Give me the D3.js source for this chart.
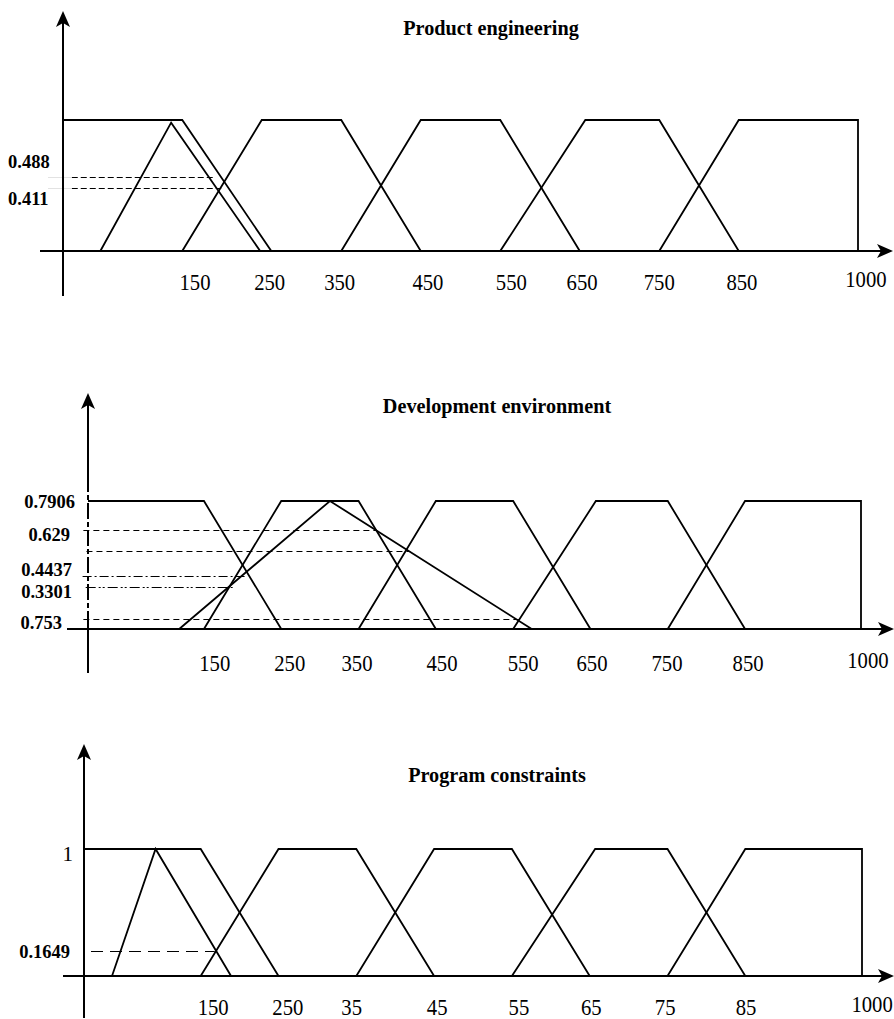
<!DOCTYPE html>
<html>
<head>
<meta charset="utf-8">
<script src="https://cdn.jsdelivr.net/npm/d3@7"></script>
<style>
  body { margin: 0; background: #fff; }
  svg { display: block; }
  text { font-family: "Liberation Serif", "Times New Roman", serif; fill: #000; }
</style>
</head>
<body>
<div id="chart"></div>
<script>
// ---------- Panel 1 : Product engineering ----------
const peTitle = "Product engineering";
const peSets = [
  [[0, 1], [150, 1], [262, 0]],
  [[47, 0], [136, 0.98], [248, 0]],
  [[150, 0], [250, 1], [350, 1], [450, 0]],
  [[350, 0], [450, 1], [550, 1], [650, 0]],
  [[550, 0], [657, 1], [750, 1], [850, 0]],
  [[750, 0], [850, 1], [1000, 1], [1000, 0]]
];
const peCutLevels = [0.565, 0.481];
const peCutFrom = [11, 11];
const peCutTo = [190, 199];
const peLabelText = ["0.488", "0.411"];
const peLabelLevel = [0.565, 0.481];
const peTickLabels = ["150", "250", "350", "450", "550", "650", "750", "850", "1000"];
const peTickAt = [166, 260, 348, 459, 564, 653, 750, 854, 1010];

// ---------- Panel 2 : Development environment ----------
const deTitle = "Development environment";
const deSets = [
  [[0, 1], [150, 1], [250, 0]],
  [[118, 0], [313, 1], [574, 0]],
  [[150, 0], [250, 1], [350, 1], [450, 0]],
  [[350, 0], [450, 1], [550, 1], [650, 0]],
  [[550, 0], [657, 1], [750, 1], [850, 0]],
  [[750, 0], [850, 1], [1000, 1], [1000, 0]]
];
const deCutLevels = [0.773, 0.609, 0.416, 0.328, 0.078];
const deCutFrom = [-6, -2, -7, -3, -6];
const deCutTo = [374, 417, 203, 188, 559];
const deLabelText = ["0.7906", "0.629", "0.4437", "0.3301", "0.753"];
const deLabelLevel = [1, 0.773, 0.416, 0.328, 0.078];
const deTickLabels = ["150", "250", "350", "450", "550", "650", "750", "850", "1000"];
const deTickAt = [164, 261, 348, 458, 563, 652, 749, 854, 1009];

// ---------- Panel 3 : Program constraints ----------
const pcTitle = "Program constraints";
const pcSets = [
  [[0, 1], [150, 1], [250, 0]],
  [[36, 0], [92, 1], [189, 0]],
  [[150, 0], [250, 1], [350, 1], [450, 0]],
  [[350, 0], [450, 1], [550, 1], [650, 0]],
  [[550, 0], [657, 1], [750, 1], [850, 0]],
  [[750, 0], [850, 1], [1000, 1], [1000, 0]]
];
const pcCutLevels = [0.197];
const pcCutFrom = [9];
const pcCutTo = [168];
const pcLabelText = ["1", "0.1649"];
const pcLabelLevel = [1, 0.197];
const pcTickLabels = ["150", "250", "35", "45", "55", "65", "75", "85", "1000"];
const pcTickAt = [166, 262, 344, 454, 559, 652, 747, 851, 1013];

// ---------- layout (pixels) ----------
const W = 894, H = 1019;
const panels = [
  {
    title: peTitle, sets: peSets, cuts: peCutLevels, cutFrom: peCutFrom, cutTo: peCutTo,
    labels: peLabelText, labelLevel: peLabelLevel, ticks: peTickLabels, tickAt: peTickAt,
    x0: 63, x1: 858, yBase: 251, yTop: 120, axisTop: 11, axisBottom: 296,
    xAxisFrom: 40, xAxisTo: 893, titleX: 491, titleY: 35, tickY: 290,
    labelX: [8, 8], labelDy: [-9, 17], labelAnchor: "start", labelBold: [true, true],
    cutDash: ["6,3", "6,3"], faintLead: true
  },
  {
    title: deTitle, sets: deSets, cuts: deCutLevels, cutFrom: deCutFrom, cutTo: deCutTo,
    labels: deLabelText, labelLevel: deLabelLevel, ticks: deTickLabels, tickAt: deTickAt,
    x0: 88, x1: 861, yBase: 629, yTop: 501, axisTop: 393, axisBottom: 673,
    xAxisFrom: 67, xAxisTo: 894, titleX: 497, titleY: 413, tickY: 671,
    labelX: [75, 70, 72, 72, 62], labelDy: [7, 11, 0, 11, 10], labelAnchor: "end",
    labelBold: [true, true, true, true, true],
    cutDash: ["6,4", "6,4", "9,3,2,3", "10,3,2,2,2,3", "6,4"], brokenAxis: true
  },
  {
    title: pcTitle, sets: pcSets, cuts: pcCutLevels, cutFrom: pcCutFrom, cutTo: pcCutTo,
    labels: pcLabelText, labelLevel: pcLabelLevel, ticks: pcTickLabels, tickAt: pcTickAt,
    x0: 84, x1: 862, yBase: 976, yTop: 849, axisTop: 744, axisBottom: 1018,
    xAxisFrom: 63, xAxisTo: 894, titleX: 497, titleY: 782, tickY: 1015,
    labelX: [73, 70], labelDy: [12, 7], labelAnchor: "end", labelBold: [false, true],
    cutDash: ["12,7"]
  }
];

const svg = d3.select("#chart").append("svg")
  .attr("width", W)
  .attr("height", H);

// arrow head with a notched back, pointing up or right
function arrowHead(tx, ty, dir) {
  const len = 16, half = 7, notch = 4;
  if (dir === "up") {
    return `M${tx},${ty} L${tx + half},${ty + len} L${tx},${ty + len - notch} L${tx - half},${ty + len} Z`;
  }
  return `M${tx},${ty} L${tx - len},${ty - half} L${tx - len + notch},${ty} L${tx - len},${ty + half} Z`;
}

// the scanned labels look a little narrow, so squeeze them horizontally
const squeeze = (px, py, k) => `translate(${px},${py}) scale(${k},1)`;

panels.forEach(function (p) {
  const x = d3.scaleLinear().domain([0, 1000]).range([p.x0, p.x1]);
  const y = d3.scaleLinear().domain([0, 1]).range([p.yBase, p.yTop]);
  const g = svg.append("g");

  // title
  g.append("text")
    .attr("transform", squeeze(p.titleX, p.titleY, 0.92))
    .attr("text-anchor", "middle")
    .style("font-size", "22px")
    .style("font-weight", "bold")
    .text(p.title);

  // dashed cut lines
  g.selectAll(".cut")
    .data(p.cuts)
    .join("line")
    .attr("class", "cut")
    .attr("x1", (d, i) => x(p.cutFrom[i]))
    .attr("x2", (d, i) => x(p.cutTo[i]))
    .attr("y1", d => Math.round(y(d)) + 0.5)
    .attr("y2", d => Math.round(y(d)) + 0.5)
    .attr("stroke", "#000")
    .attr("stroke-width", 1.1)
    .attr("stroke-dasharray", (d, i) => p.cutDash[i]);

  if (p.faintLead) {
    g.selectAll(".lead")
      .data(p.cuts)
      .join("line")
      .attr("x1", 48)
      .attr("x2", (d, i) => x(p.cutFrom[i]))
      .attr("y1", d => Math.round(y(d)) + 0.5)
      .attr("y2", d => Math.round(y(d)) + 0.5)
      .attr("stroke", "#e2e2e2")
      .attr("stroke-width", 1);
  }

  // membership functions
  const line = d3.line().x(d => x(d[0])).y(d => y(d[1]));
  g.selectAll(".set")
    .data(p.sets)
    .join("path")
    .attr("class", "set")
    .attr("d", line)
    .attr("fill", "none")
    .attr("stroke", "#000")
    .attr("stroke-width", 1.8)
    .attr("stroke-linejoin", "miter");

  // x axis
  const ax = x(0);
  g.append("line")
    .attr("x1", p.xAxisFrom).attr("x2", p.xAxisTo - 10)
    .attr("y1", p.yBase).attr("y2", p.yBase)
    .attr("stroke", "#000").attr("stroke-width", 2);
  g.append("path").attr("d", arrowHead(p.xAxisTo, p.yBase, "right")).attr("fill", "#000");

  // y axis
  if (p.brokenAxis) {
    const yBreak = p.axisTop + 83;
    g.append("line")
      .attr("x1", ax).attr("x2", ax)
      .attr("y1", p.axisTop + 10).attr("y2", yBreak)
      .attr("stroke", "#000").attr("stroke-width", 2);
    g.append("line")
      .attr("x1", ax).attr("x2", ax)
      .attr("y1", yBreak).attr("y2", p.yBase - 4)
      .attr("stroke", "#000").attr("stroke-width", 2)
      .attr("stroke-dasharray", "16,3,5,3");
    g.append("line")
      .attr("x1", ax).attr("x2", ax)
      .attr("y1", p.yBase - 4).attr("y2", p.axisBottom)
      .attr("stroke", "#000").attr("stroke-width", 2);
  } else {
    g.append("line")
      .attr("x1", ax).attr("x2", ax)
      .attr("y1", p.axisTop + 10).attr("y2", p.axisBottom)
      .attr("stroke", "#000").attr("stroke-width", 2);
  }
  g.append("path").attr("d", arrowHead(ax, p.axisTop, "up")).attr("fill", "#000");

  // tick labels
  g.selectAll(".tick")
    .data(p.ticks)
    .join("text")
    .attr("class", "tick")
    .attr("transform", (d, i) => squeeze(x(p.tickAt[i]), i === p.ticks.length - 1 ? p.tickY - 3 : p.tickY, 0.9))
    .attr("text-anchor", "middle")
    .style("font-size", "23px")
    .text(d => d);

  // level labels
  g.selectAll(".lvl")
    .data(p.labels)
    .join("text")
    .attr("class", "lvl")
    .attr("x", (d, i) => p.labelX[i])
    .attr("y", (d, i) => y(p.labelLevel[i]) + p.labelDy[i])
    .attr("text-anchor", p.labelAnchor)
    .style("font-size", (d, i) => p.labelBold[i] ? "18.5px" : "21px")
    .style("font-weight", (d, i) => p.labelBold[i] ? "bold" : "normal")
    .text(d => d);
});
</script>
</body>
</html>
